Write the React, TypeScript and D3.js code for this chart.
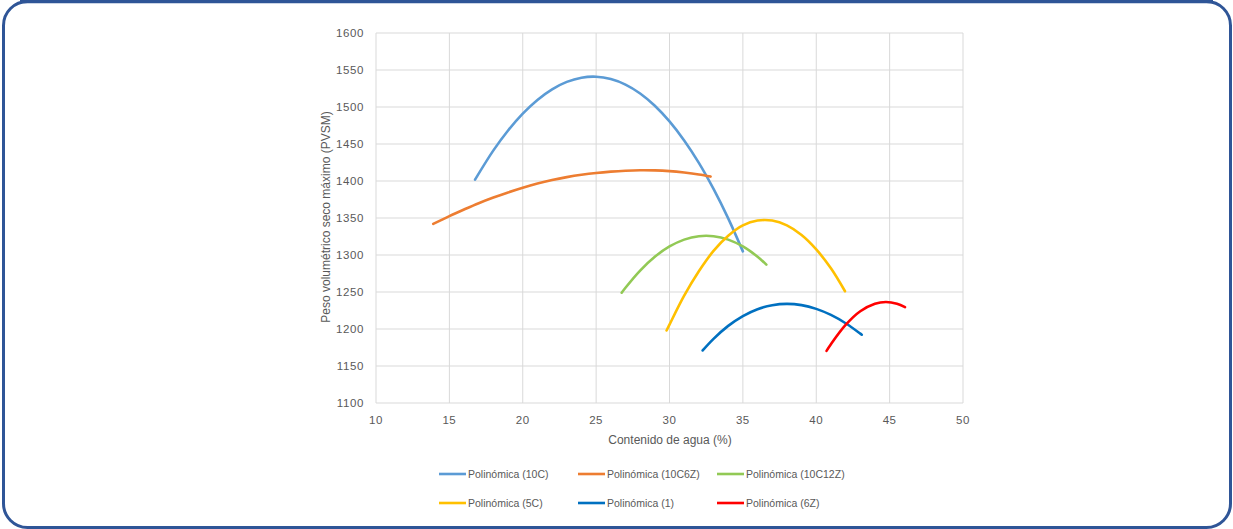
import React from "react";
import * as d3 from "d3";

const xTicks = [10, 15, 20, 25, 30, 35, 40, 45, 50];
const yTicks = [1100, 1150, 1200, 1250, 1300, 1350, 1400, 1450, 1500, 1550, 1600];

const seriesNames = [
  "Polinómica (10C)",
  "Polinómica (10C6Z)",
  "Polinómica (10C12Z)",
  "Polinómica (5C)",
  "Polinómica (1)",
  "Polinómica (6Z)",
];
const seriesColors = ["#5b9bd5", "#ed7d31", "#92c955", "#ffc000", "#0070c0", "#ff0000"];

const s10C: [number, number][] = [
  [16.75, 1401.9], [18, 1441.4], [19, 1468.3], [20, 1491.1], [21, 1509.6], [22, 1523.9],
  [23, 1533.9], [24, 1539.6], [25, 1540.9], [26, 1537.8], [27, 1530.3], [28, 1518.3], [29, 1501.7],
  [30, 1480.5], [31, 1454.8], [32, 1424.5], [33, 1389.3], [34, 1349.5], [35, 1304.9],
];
const s10C6Z: [number, number][] = [
  [13.9, 1342], [15, 1352.6], [16, 1361.5], [17, 1370], [18, 1377.6], [19, 1384.6], [20, 1391],
  [21, 1396.6], [22, 1401.3], [23, 1405.2], [24, 1408.4], [25, 1410.9], [26, 1412.7], [27, 1413.9],
  [28, 1414.5], [29, 1414.3], [30, 1413.3], [31, 1411.4], [32, 1408.8], [32.8, 1406],
];
const s10C12Z: [number, number][] = [
  [26.74, 1249], [27, 1255.8], [28, 1279], [29, 1297.6], [30, 1311.5], [31, 1320.8], [32, 1325.4],
  [33, 1325.4], [34, 1320.8], [35, 1311.5], [36, 1297.6], [36.6, 1287],
];
const s5C: [number, number][] = [
  [29.8, 1198], [30, 1206], [31, 1245], [32, 1278], [33, 1305.5], [34, 1326], [35, 1340],
  [36, 1346.5], [37, 1346.5], [38, 1340], [39, 1327], [40, 1307.5], [41, 1282], [41.96, 1251],
];
const s1: [number, number][] = [
  [32.26, 1171], [33, 1186.7], [34, 1204.2], [35, 1217.5], [36, 1226.8], [37, 1232.2], [38, 1234],
  [39, 1232.3], [40, 1227.2], [41, 1219], [42, 1207.8], [43, 1193.8], [43.1, 1192.3],
];
const s6Z: [number, number][] = [
  [40.7, 1170.5], [41, 1179.5], [42, 1205.5], [43, 1224], [44, 1234.2], [44.75, 1236.5],
  [45.5, 1234.2], [46.05, 1229.6],
];

const allSeries = [s10C, s10C6Z, s10C12Z, s5C, s1, s6Z];

const W = 1233;
const H = 529;
const left = 376, right = 963, top = 33, bottom = 403;

export default function App() {
  const x = d3.scaleLinear().domain([10, 50]).range([left, right]);
  const y = d3.scaleLinear().domain([1100, 1600]).range([bottom, top]);
  const line = d3
    .line<[number, number]>()
    .x((d) => x(d[0]))
    .y((d) => y(d[1]))
    .curve(d3.curveCatmullRom.alpha(0.5));

  const font = "'Liberation Sans', Arial, sans-serif";
  const txt = "#595959";
  const legendCols = [439, 578, 717];
  const legendRows = [474, 503];

  return (
    <svg
      width={W}
      height={H}
      style={{ position: "absolute", left: 0, top: 0, background: "#fff" }}
      fontFamily={font}
    >
      <rect x={0} y={0} width={W} height={H} fill="#fff" />
      <rect
        x={3.5}
        y={1.5}
        width={W - 6}
        height={H - 3}
        rx={24}
        ry={24}
        fill="none"
        stroke="#2f5597"
        strokeWidth={3}
      />
      <line x1={20} x2={W - 20} y1={1.5} y2={1.5} stroke="#2f5597" strokeWidth={3.5} />

      {/* gridlines */}
      {yTicks.map((t) => (
        <line key={"gy" + t} x1={left} x2={right} y1={y(t)} y2={y(t)} stroke="#d9d9d9" strokeWidth={1} />
      ))}
      {xTicks.map((t) => (
        <line key={"gx" + t} x1={x(t)} x2={x(t)} y1={top} y2={bottom} stroke="#d9d9d9" strokeWidth={1} />
      ))}

      {/* tick labels */}
      {yTicks.map((t) => (
        <text
          key={"ty" + t}
          x={364}
          y={y(t)}
          dy="0.35em"
          textAnchor="end"
          fontSize={11.5}
          letterSpacing={0.6}
          fill={txt}
        >
          {t}
        </text>
      ))}
      {xTicks.map((t) => (
        <text
          key={"tx" + t}
          x={x(t)}
          y={424}
          textAnchor="middle"
          fontSize={11.5}
          letterSpacing={0.6}
          fill={txt}
        >
          {t}
        </text>
      ))}

      {/* axis titles */}
      <text x={670} y={444} textAnchor="middle" fontSize={12} fill={txt}>
        Contenido de agua (%)
      </text>
      <text
        transform={`translate(330,217) rotate(-90)`}
        textAnchor="middle"
        fontSize={12}
        fill={txt}
      >
        Peso volumétrico seco máximo (PVSM)
      </text>

      {/* series */}
      {allSeries.map((s, i) => (
        <path
          key={"s" + i}
          d={line(s) || ""}
          fill="none"
          stroke={seriesColors[i]}
          strokeWidth={2.6}
          strokeLinecap="round"
          strokeLinejoin="round"
        />
      ))}

      {/* legend */}
      {seriesNames.map((n, i) => {
        const cx = legendCols[i % 3];
        const cy = legendRows[Math.floor(i / 3)];
        return (
          <g key={"l" + i}>
            <line x1={cx} x2={cx + 27} y1={cy} y2={cy} stroke={seriesColors[i]} strokeWidth={2.6} />
            <text x={cx + 29} y={cy} dy="0.35em" fontSize={10.5} fill={txt}>
              {n}
            </text>
          </g>
        );
      })}
    </svg>
  );
}
